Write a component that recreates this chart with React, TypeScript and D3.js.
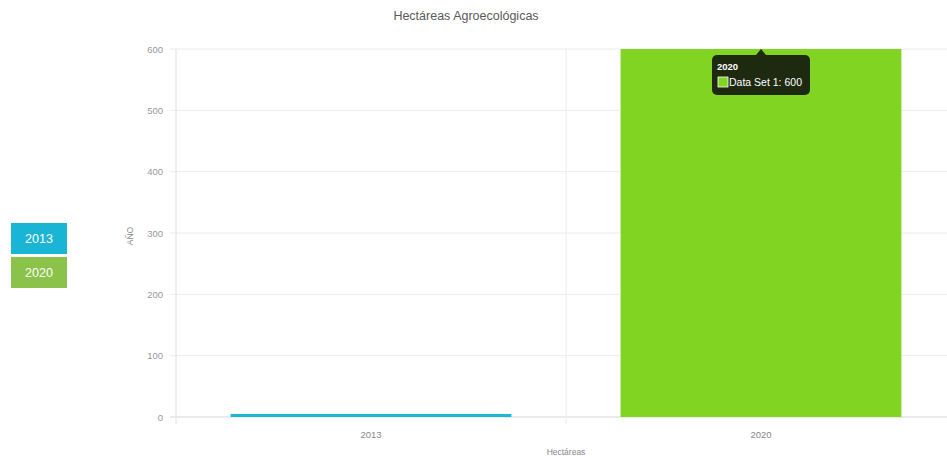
import React from "react";
import * as d3 from "d3";

const categories = ["2013", "2020"];
const values = [5, 600];
const barColors = ["#1fb7d6", "#82d422"];
const legendLabels = ["2013", "2020"];
const legendColors = ["#1ab4d4", "#8bc34a"];
const yTicks = [0, 100, 200, 300, 400, 500, 600];
const title = "Hectáreas Agroecológicas";
const xTitle = "Hectáreas";
const yTitle = "AÑO";
const tooltipTitle = "2020";
const tooltipLabel = "Data Set 1: 600";

const W = 947;
const H = 459;
const left = 176;
const right = 956;
const top = 49;
const bottom = 417;

export default function App() {
  const x = d3.scaleBand<string>().domain(categories).range([left, right]).padding(0);
  const y = d3.scaleLinear().domain([0, 600]).range([bottom, top]);
  const bw = x.bandwidth() * 0.72;
  const font = "'Liberation Sans', Arial, sans-serif";
  const tipX = (x("2020") as number) + x.bandwidth() / 2;
  const tipY = y(600);
  const bounds = [left, ...categories.map((c) => (x(c) as number) + x.bandwidth())];

  return (
    <svg
      width={W}
      height={H}
      style={{ position: "absolute", left: 0, top: 0, background: "#fff" }}
      fontFamily={font}
    >
      <text x={466} y={20} textAnchor="middle" fontSize={12.5} fill="#5a5a5a">
        {title}
      </text>
      {yTicks.map((t) => (
        <g key={t}>
          <line x1={left - 6} x2={right} y1={y(t)} y2={y(t)} stroke={t === 0 ? "#d6d6d6" : "#ececec"} strokeWidth={1} />
          <text x={163} y={y(t) + 3.5} textAnchor="end" fontSize={9.5} fill="#999">
            {t}
          </text>
        </g>
      ))}
      {bounds.map((b, i) => (
        <line key={i} x1={b} x2={b} y1={top} y2={bottom + 7} stroke={i === 0 ? "#dedede" : "#ececec"} strokeWidth={1} />
      ))}
      {categories.map((c, i) => (
        <rect
          key={c}
          x={(x(c) as number) + (x.bandwidth() - bw) / 2}
          y={y(values[i])}
          width={bw}
          height={bottom - y(values[i])}
          fill={barColors[i]}
        />
      ))}
      {categories.map((c) => (
        <text key={c} x={(x(c) as number) + x.bandwidth() / 2} y={438} textAnchor="middle" fontSize={9.5} fill="#888">
          {c}
        </text>
      ))}
      <text x={566} y={455} textAnchor="middle" fontSize={8.5} fill="#888">
        {xTitle}
      </text>
      <text transform={`translate(133,236) rotate(-90)`} textAnchor="middle" fontSize={8.5} fill="#888">
        {yTitle}
      </text>
      {legendLabels.map((l, i) => (
        <g key={l}>
          <rect x={11} y={223 + i * 34} width={56} height={31} fill={legendColors[i]} />
          <text x={39} y={243 + i * 34} textAnchor="middle" fontSize={12.5} fill="#fff">
            {l}
          </text>
        </g>
      ))}
      <g>
        <path
          d={`M${tipX - 5},${tipY + 6} L${tipX},${tipY} L${tipX + 5},${tipY + 6} Z`}
          fill="#1e2a10"
        />
        <rect x={tipX - 49} y={tipY + 6} width={98} height={40} rx={5} fill="#1e2a10" />
        <text x={tipX - 44} y={tipY + 21} fontSize={9.5} fontWeight="bold" fill="#fff">
          {tooltipTitle}
        </text>
        <rect x={tipX - 43} y={tipY + 28} width={10} height={10} fill="#82d422" stroke="#fff" strokeWidth={0.8} />
        <text x={tipX - 32} y={tipY + 37} fontSize={10.5} fill="#fff">
          {tooltipLabel}
        </text>
      </g>
    </svg>
  );
}
